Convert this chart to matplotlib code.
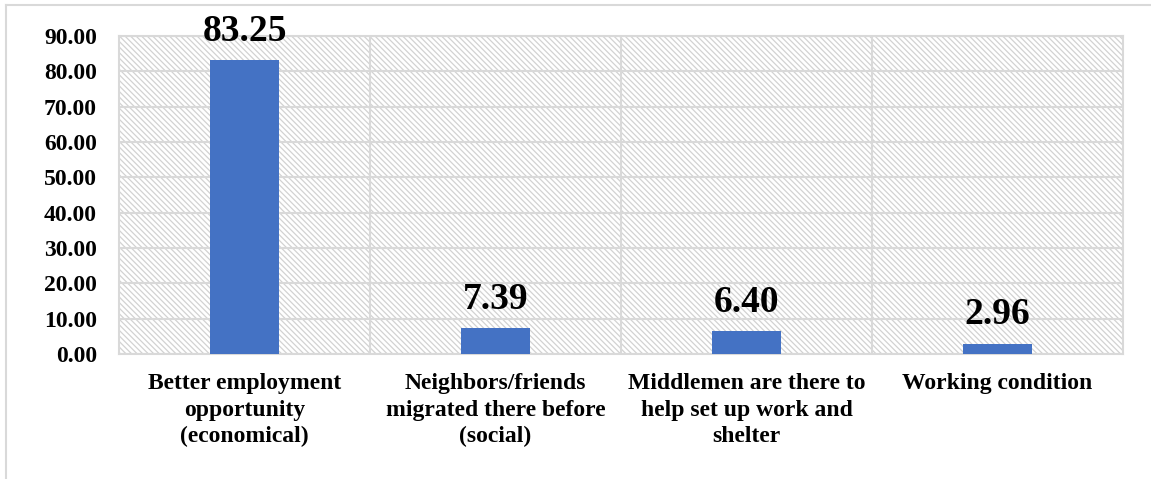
import matplotlib
matplotlib.use("Agg")
import matplotlib.pyplot as plt
from matplotlib.patches import Rectangle
from matplotlib.lines import Line2D

categories = [
    "Better employment\nopportunity\n(economical)",
    "Neighbors/friends\nmigrated there before\n(social)",
    "Middlemen are there to\nhelp set up work and\nshelter",
    "Working condition",
]
values = [83.25, 7.39, 6.40, 2.96]
yticks = [0, 10, 20, 30, 40, 50, 60, 70, 80, 90]

BAR_COLOR = "#4472C4"
GRID_COLOR = "#d9d9d9"
HATCH_COLOR = "#d2d2d2"

plt.rcParams["font.family"] = ["Liberation Serif", "DejaVu Serif"]
plt.rcParams["font.weight"] = "bold"
plt.rcParams["hatch.linewidth"] = 0.9
plt.rcParams["hatch.color"] = HATCH_COLOR

fig = plt.figure(figsize=(11.51, 4.79), dpi=100)
ax = fig.add_axes([119 / 1151, 1 - 354 / 479, (1123 - 119) / 1151, (354 - 36) / 479])

# hatched plot-area background
ax.add_patch(Rectangle((0, 0), 1, 1, transform=ax.transAxes, facecolor="white",
                       edgecolor=HATCH_COLOR, hatch="\\" * 6, lw=0, zorder=0))

x = list(range(len(categories)))
ax.bar(x, values, width=0.275, color=BAR_COLOR, zorder=3)

for xi, v in zip(x, values):
    ax.annotate(f"{v:.2f}", (xi, v), xytext=(0, 8), textcoords="offset points",
                ha="center", va="bottom", fontsize=27, fontweight="bold",
                color="black", zorder=4)

ax.set_xlim(-0.5, len(categories) - 0.5)
ax.set_ylim(0, 90)
ax.set_yticks(yticks)
ax.set_yticklabels([f"{t:.2f}" for t in yticks], fontsize=17, fontweight="bold")
ax.set_xticks(x)
ax.set_xticklabels(categories, fontsize=17, fontweight="bold", linespacing=1.32,
                   va="top")
ax.tick_params(axis="both", length=0)
ax.tick_params(axis="y", pad=16)
ax.tick_params(axis="x", pad=14)

# horizontal gridlines and category separators
ax.yaxis.grid(True, color=GRID_COLOR, lw=1.5, zorder=1)
ax.set_axisbelow(True)
for b in [0.5, 1.5, 2.5]:
    ax.axvline(b, color=GRID_COLOR, lw=1.5, zorder=1)
for s in ax.spines.values():
    s.set_color(GRID_COLOR)
    s.set_linewidth(1.5)

# chart-area frame (left and top edges)
fw, fh = 1151, 479
fig.add_artist(Line2D([6 / fw, 6 / fw], [0, 1 - 5 / fh], color=GRID_COLOR, lw=1.5,
                      transform=fig.transFigure))
fig.add_artist(Line2D([6 / fw, 1], [1 - 5 / fh, 1 - 5 / fh], color=GRID_COLOR, lw=1.5,
                      transform=fig.transFigure))

fig.savefig("out.png", dpi=100, facecolor="white")
